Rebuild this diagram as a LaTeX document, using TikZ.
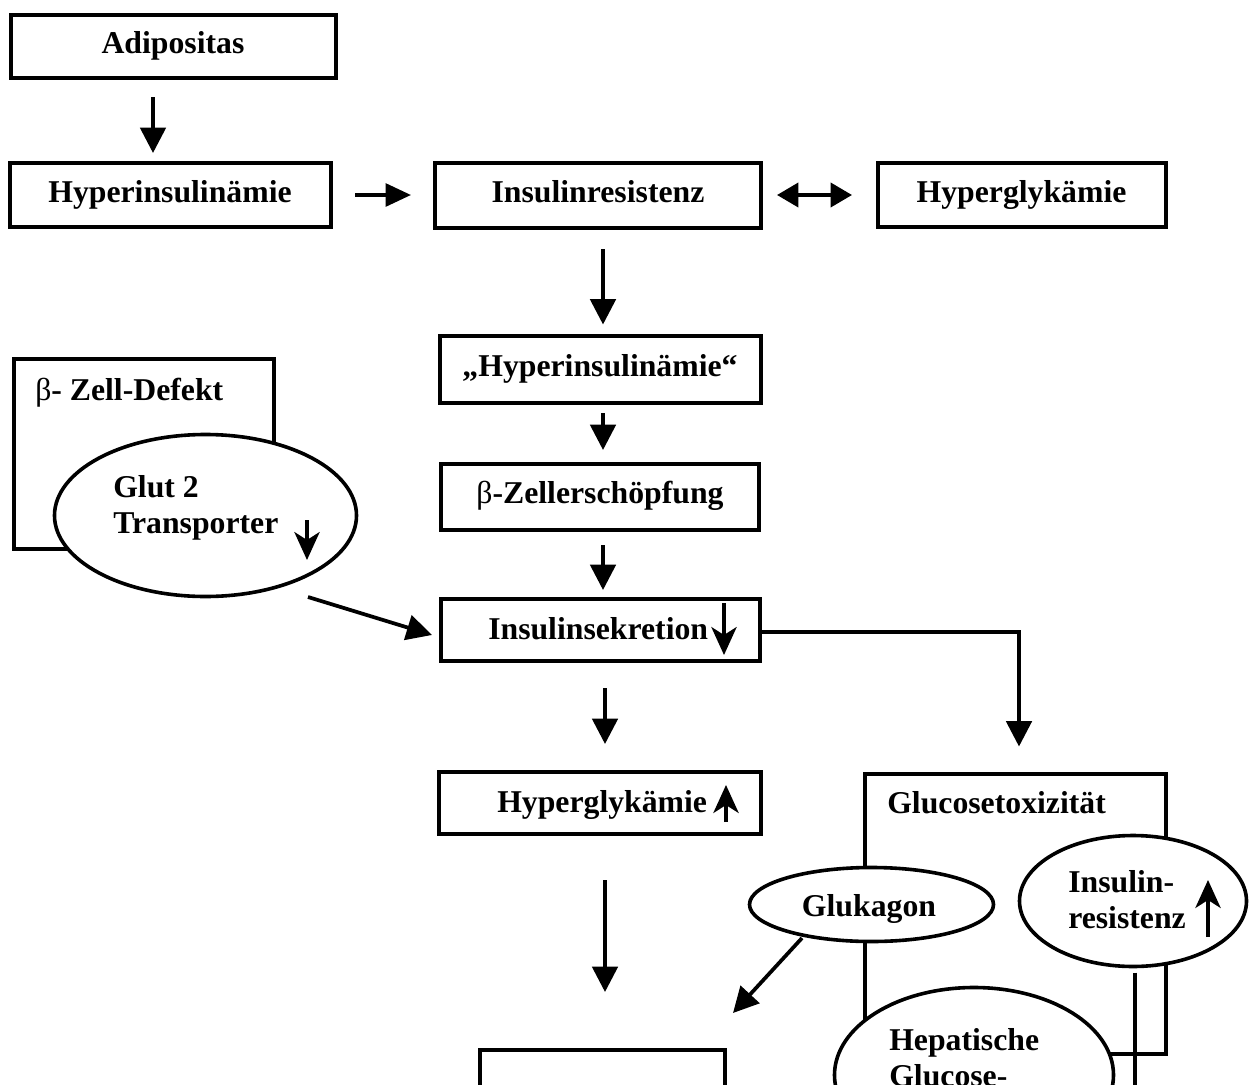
\documentclass[tikz,border=0pt]{standalone}
\usepackage{fontspec}
\setmainfont{Liberation Serif}
\usetikzlibrary{arrows.meta,shapes.geometric,calc}
\begin{document}
\begin{tikzpicture}[x=0.75pt,y=-0.75pt,
  font=\fontsize{23.8pt}{27pt}\selectfont\bfseries,
  box/.style={draw, line width=3pt, inner sep=0pt, outer sep=0pt, align=center, text height=15.5pt, text depth=4.5pt},
  oval/.style={ellipse, draw, fill=white, line width=2.7pt, inner sep=0pt, outer sep=0pt},
  lbl/.style={anchor=base west, inner sep=0pt},
  arr/.style={line width=2.8pt, -{Triangle[length=19pt,width=19pt]}},
  harr/.style={line width=2.8pt, -{Triangle[length=19pt,width=17pt]}},
  darr/.style={line width=2.8pt, {Triangle[length=16pt,width=18pt]}-{Triangle[length=16pt,width=18pt]}},
  tarr/.style={line width=2.3pt, -{Stealth[length=21pt,width=19pt,inset=6pt]}},
  edgeline/.style={line width=2.8pt}]
\useasboundingbox (0,0) rectangle (1253,1085);
\clip (0,0) rectangle (1253,1085);

% boxes
\node[box, minimum width=243.75pt, minimum height=47.25pt] (adip) at (173,46) {Adipositas};
\node[box, minimum width=240.75pt, minimum height=48pt] (hyperins) at (170,195) {Hyperinsulinämie};
\node[box, minimum width=244.5pt, minimum height=48.75pt] (insres) at (598,195) {Insulinresistenz};
\node[box, minimum width=216pt, minimum height=48pt] (hypergly) at (1021.5,195) {Hyperglykämie};
\node[box, minimum width=240.75pt, minimum height=50.25pt] (hypins2) at (600,369) {„Hyperinsulinämie“};
\node[box, minimum width=238.5pt, minimum height=49.5pt] (betaz) at (600,496.5) {{\mdseries β}-Zellerschöpfung};
\node[box, minimum width=239.25pt, minimum height=46.5pt] (inssek) at (600,629.5) {};
\node[box, minimum width=241.5pt, minimum height=46.5pt] (hypergly2) at (600,802.5) {};
\node[box, minimum width=225.75pt, minimum height=210pt] (gluctox) at (1015,913.5) {};
\node[box, minimum width=183.75pt, minimum height=90.75pt] (endbox) at (602,1110) {};
\node[box, minimum width=195pt, minimum height=142.5pt] (betadef) at (143.5,453.5) {};

% ellipses
\node[oval, minimum width=226.5pt, minimum height=121.5pt] (glut) at (205.5,515.5) {};
\node[oval, minimum width=183pt, minimum height=55.5pt] (glukagon) at (871.5,904.5) {};
\node[oval, minimum width=170.25pt, minimum height=98.25pt] (insresE) at (1133,901) {};
\node[oval, minimum width=209.25pt, minimum height=131.25pt] (hepat) at (974,1075) {};

% labels
\node[lbl] (tbd) at (35,400) {{\mdseries β}- Zell-Defekt};
\node[lbl] (tglutA) at (113,497) {Glut 2};
\node[lbl] (tglutB) at (113,533) {Transporter};
\node[lbl] (tinssek) at (488,639) {Insulinsekretion};
\node[lbl] (thg2) at (497,812) {Hyperglykämie};
\node[lbl] (tgt) at (887,813) {Glucosetoxizität};
\node[anchor=base, inner sep=0pt] (tgk) at (869,916) {Glukagon};
\node[lbl] (tirA) at (1068,892) {Insulin-};
\node[lbl] (tirB) at (1068,928) {resistenz};
\node[lbl] (thpA) at (889,1050) {Hepatische};
\node[lbl] (thpB) at (889,1086) {Glucose-};

% small arrows inside labels
\draw[tarr] (307,520) -- (307,560);
\draw[tarr] (724,603) -- (724,655);
\draw[tarr] (726,822) -- (726,785);
\draw[tarr] (1208,937) -- (1208,880);

% connectors
\draw[arr] ($(adip.south)+(-20,19.5)$) -- ($(hyperins.north)+(-17,-10)$);
\draw[harr] ($(hyperins.east)+(24.5,0)$) -- ($(insres.west)+(-24,0)$);
\draw[darr] ($(insres.east)+(16,0)$) -- ($(hypergly.west)+(-25.5,0)$);
\draw[arr] ($(insres.south)+(5,21.5)$) -- ($(hypins2.north)+(3,-11)$);
\draw[arr] ($(hypins2.south)+(3,10.5)$) -- ($(betaz.north)+(3,-13.5)$);
\draw[arr] ($(betaz.south)+(3,15.5)$) -- ($(inssek.north)+(3,-8.5)$);
\draw[arr] ($(inssek.south)+(5,27.5)$) -- ($(hypergly2.north)+(5,-27.5)$);
\draw[arr] ($(hypergly2.south)+(5,46.5)$) -- ($(endbox.north)+(3,-57.5)$);
\draw[arr] ($(inssek.east)+(0,2.5)$) -| ($(gluctox.north)+(4,-27)$);
\draw[arr] ($(glut.south)+(102.5,0.5)$) -- ($(inssek.west)+(-8.5,5.5)$);
\draw[arr] ($(glukagon.south)+(-69.5,-3.5)$) -- ($(endbox.north east)+(8.5,-36.5)$);
\draw[edgeline] ($(insresE.south)+(2,6)$) -- ++(0,150);
\end{tikzpicture}
\end{document}
